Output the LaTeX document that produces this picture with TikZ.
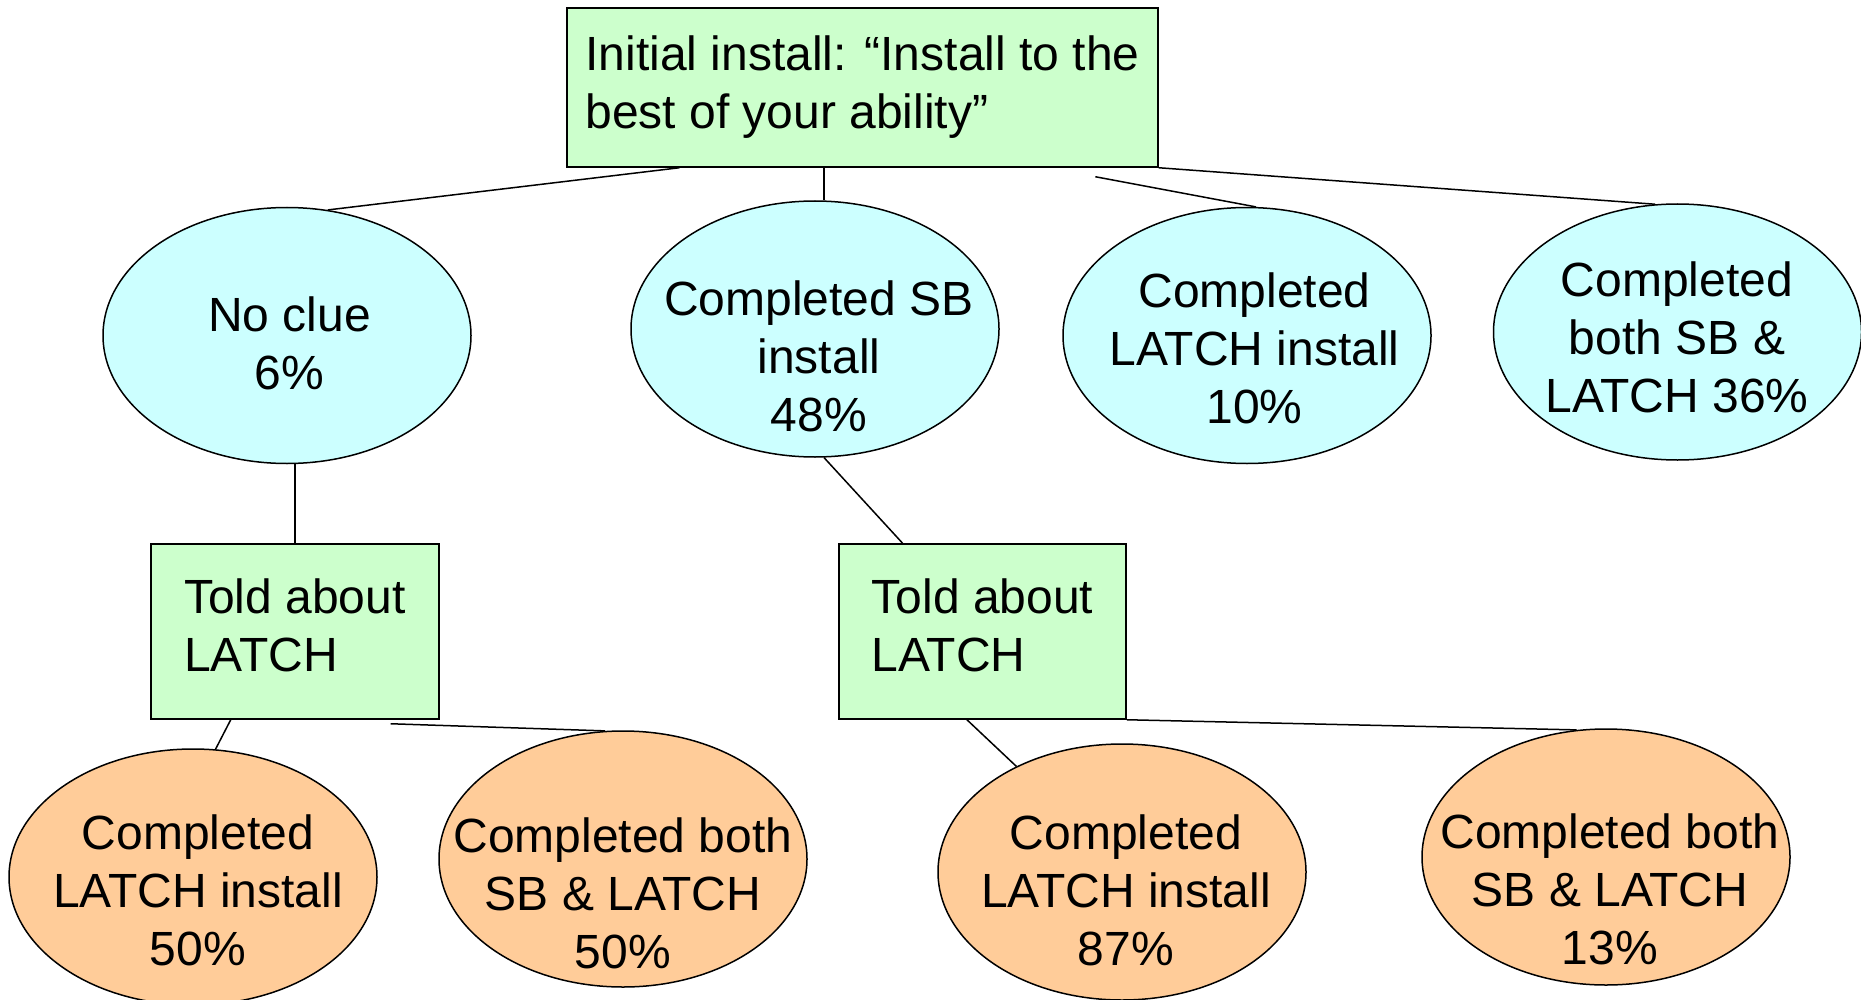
\documentclass[tikz,border=0pt]{standalone}
\usepackage{fontspec}
\setmainfont{Liberation Sans}
\usetikzlibrary{shapes.geometric,calc}
\definecolor{boxgreen}{HTML}{CCFFCC}
\definecolor{ellcyan}{HTML}{CCFFFF}
\definecolor{ellorange}{HTML}{FFCC99}
\begin{document}
\begin{tikzpicture}[x=0.5pt,y=-0.5pt,
  lbl/.style={font=\fontsize{24}{29}\selectfont, align=center, inner sep=0pt},
  gbox/.style={draw, line width=0.75pt, fill=boxgreen, font=\fontsize{24}{29}\selectfont, align=left},
  ell/.style={ellipse, draw, line width=0.75pt, minimum width=184pt, minimum height=128pt, inner sep=0pt},
  conn/.style={line width=0.75pt}]
\useasboundingbox (0,0) rectangle (1861,1000);
\clip (0,0) rectangle (1861,1000);
% boxes
\node[gbox, minimum width=295.5pt, minimum height=79.5pt, inner xsep=0pt] (top) at (862.5,87.5)
  {Initial install: “Install to the\\best of your ability”};
\node[gbox, minimum width=144pt, minimum height=87.5pt, text depth=6pt] (tl1) at (295,631.5) {Told about\\LATCH};
\node[gbox, minimum width=143.5pt, minimum height=87.5pt, text depth=6pt] (tl2) at (982.5,631.5) {Told about\\LATCH};
% upper ellipses
\node[ell, fill=ellcyan] (nc) at (287,335.5) {};
\node[lbl] (ncT) at (289.5,343.5) {No clue\\6\%};
\node[ell, fill=ellcyan] (sb) at (815,329) {};
\node[lbl] (sbT) at (819,356) {Completed SB\\install\\48\%};
\node[ell, fill=ellcyan] (lt) at (1247,335.5) {};
\node[lbl] (ltT) at (1254.5,348.5) {Completed\\LATCH install\\10\%};
\node[ell, fill=ellcyan] (b36) at (1677.5,332) {};
\node[lbl] (b36T) at (1677,337) {Completed\\both SB \&\\LATCH 36\%};
% lower ellipses
\node[ell, fill=ellorange] (o1) at (193,877) {};
\node[lbl] (o1T) at (198,890) {Completed\\LATCH install\\50\%};
\node[ell, fill=ellorange] (o2) at (623,859) {};
\node[lbl] (o2T) at (623,893) {Completed both\\SB \& LATCH\\50\%};
\node[ell, fill=ellorange] (o3) at (1122,872) {};
\node[lbl] (o3T) at (1126,890) {Completed\\LATCH install\\87\%};
\node[ell, fill=ellorange] (o4) at (1606,857) {};
\node[lbl] (o4T) at (1610,889) {Completed both\\SB \& LATCH\\13\%};
% connectors
\draw[conn] ($(top.south west)!0.191!(top.south east)$) -- (nc.72);
\draw[conn] (top.south -| sb.86) -- (sb.86);
\draw[conn] ($(top.south west)!0.893!(top.south east)+(0,9)$) -- (lt.86);
\draw[conn] (top.south east) -- (b36.100);
\draw[conn] (tl1.north |- nc.south) -- (tl1.north);
\draw[conn] (sb.274.5) -- ($(tl2.north west)!0.223!(tl2.north east)$);
\draw[conn] ($(tl1.south west)!0.278!(tl1.south east)$) -- (o1.80);
\draw[conn] ($(tl1.south west)!0.83!(tl1.south east)+(0,4)$) -- (o2.98);
\draw[conn] ($(tl2.south west)!0.446!(tl2.south east)$) -- (o3.135.5);
\draw[conn] (tl2.south east) -- (o4.103);
\end{tikzpicture}
\end{document}
